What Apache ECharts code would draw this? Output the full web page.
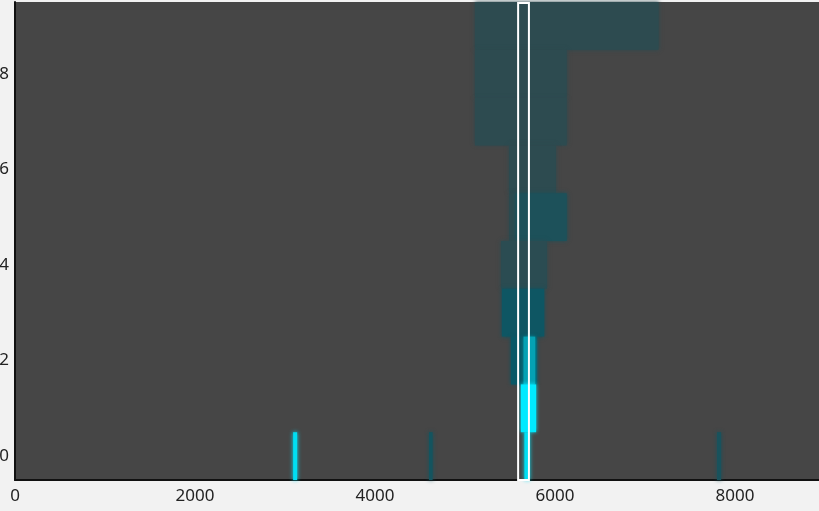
<!DOCTYPE html>
<html lang="en">
<head>
    <meta charset="UTF-8">
    <title>rows</title>
    <script src="https://cdn.jsdelivr.net/npm/echarts@6/dist/echarts.min.js"></script>
    <style>
        html, body { margin: 0; padding: 0; background: #f2f2f2; }
        #main { width: 819px; height: 511px; }
    </style>
</head>
<body>
<div id="main"></div>
<script type="text/javascript">
    // each segment: [row, start, end, intensity 0..1]
    var rows = [9, 8, 7, 6, 5, 5, 4, 3, 2, 2, 1, 0, 0, 0, 0];
    var starts = [5110, 5110, 5110, 5490, 5490, 5560, 5400, 5410, 5510, 5650, 5620, 3090, 4600, 5660, 7800];
    var ends = [7150, 6130, 6130, 6010, 5560, 6130, 5910, 5880, 5800, 5780, 5790, 3135, 4640, 5720, 7845];
    var levels = [0.08, 0.08, 0.08, 0.08, 0.08, 0.22, 0.1, 0.35, 0.4, 0.7, 1.0, 0.95, 0.3, 0.95, 0.25];

    // highlighted window
    var boxStart = [5590];
    var boxEnd = [5710];

    var xTicks = [0, 2000, 4000, 6000, 8000];
    var yTicks = [0, 2, 4, 6, 8];

    var stops = [[0, [54, 72, 75]], [0.4, [8, 88, 102]], [1, [0, 234, 255]]];
    function colorFor(v) {
        for (var i = 1; i < stops.length; i++) {
            if (v <= stops[i][0]) {
                var a = stops[i - 1], b = stops[i];
                var t = (v - a[0]) / (b[0] - a[0]);
                var c = a[1].map(function (x, k) { return Math.round(x + (b[1][k] - x) * t); });
                return 'rgb(' + c.join(',') + ')';
            }
        }
        return 'rgb(0,234,255)';
    }

    var segData = rows.map(function (r, i) {
        return [starts[i], ends[i], r, levels[i]];
    });
    var boxData = boxStart.map(function (s, i) { return [s, boxEnd[i]]; });

    var myChart = echarts.init(document.getElementById('main'));
    var option = {
        animation: false,
        backgroundColor: '#f2f2f2',
        grid: {
            left: 15, right: 0, top: 2, bottom: 31,
            containLabel: false, outerBoundsMode: 'none',
            backgroundColor: '#464646', show: true, borderWidth: 0
        },
        xAxis: {
            type: 'value', min: 0, max: 8933,
            splitLine: { show: false },
            axisTick: { show: false },
            axisLine: { onZero: false, lineStyle: { color: '#111', width: 2 } },
            axisLabel: {
                color: '#222', fontSize: 17, fontFamily: 'Noto Sans', margin: 8,
                showMaxLabel: false,
                formatter: function (v) { return xTicks.indexOf(v) >= 0 ? String(v) : ''; }
            }
        },
        yAxis: {
            type: 'value', min: -0.5, max: 9.5,
            splitLine: { show: false },
            axisTick: { show: false },
            axisLine: { show: true, onZero: false, lineStyle: { color: '#111', width: 2 } },
            axisLabel: {
                color: '#222', fontSize: 17, fontFamily: 'Noto Sans', margin: 6,
                formatter: function (v) { return yTicks.indexOf(v) >= 0 ? String(v) : ''; }
            }
        },
        series: [
            {
                type: 'custom',
                data: segData,
                renderItem: function (params, api) {
                    var p0 = api.coord([api.value(0), api.value(2) + 0.5]);
                    var p1 = api.coord([api.value(1), api.value(2) - 0.5]);
                    var col = colorFor(api.value(3));
                    return {
                        type: 'rect',
                        shape: { x: p0[0], y: p0[1], width: Math.max(p1[0] - p0[0], 1), height: p1[1] - p0[1] },
                        style: { fill: col, shadowBlur: 4, shadowColor: col }
                    };
                },
                encode: { x: [0, 1], y: 2 }
            },
            {
                type: 'custom',
                data: boxData,
                z: 5,
                renderItem: function (params, api) {
                    var p0 = api.coord([api.value(0), 9.5]);
                    var p1 = api.coord([api.value(1), -0.5]);
                    return {
                        type: 'rect',
                        shape: { x: p0[0], y: p0[1] + 1, width: p1[0] - p0[0], height: p1[1] - p0[1] - 1 },
                        style: { fill: 'none', stroke: '#ffffff', lineWidth: 2 }
                    };
                },
                encode: { x: [0, 1] }
            }
        ]
    };
    myChart.setOption(option);
</script>
</body>
</html>
